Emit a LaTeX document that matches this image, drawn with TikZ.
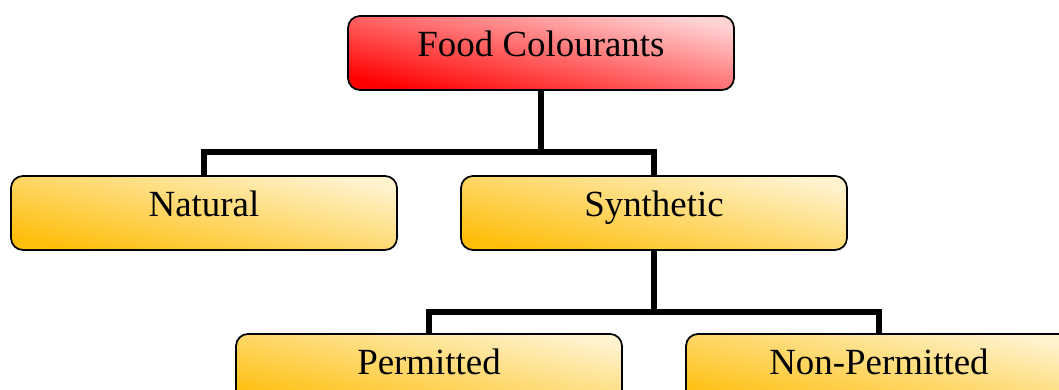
\documentclass[tikz,border=0pt]{standalone}
\usepackage{fontspec}
\setmainfont{Liberation Serif}
\usetikzlibrary{positioning, calc}
\definecolor{rootdark}{RGB}{255,0,0}
\definecolor{rootlight}{RGB}{255,210,212}
\definecolor{leafdark}{RGB}{255,190,10}
\definecolor{leaflight}{RGB}{255,243,206}

\begin{document}
\begin{tikzpicture}[every node/.style={font=\fontsize{21}{25}\selectfont},
      box/.style={rectangle, rounded corners=0.24cm, draw, line width=1pt,
        minimum width=7.72cm, inner sep=0pt, text height=0.82cm, text depth=0.66cm},
      rootbox/.style={box, top color=rootlight, bottom color=rootdark, shading angle=-12},
      leafbox/.style={box, top color=leaflight, bottom color=leafdark, shading angle=-12},
      conn/.style={line width=3.2pt}]
      \useasboundingbox (0,0) rectangle (21.18,7.8);

      % Blocks
      \node[rootbox] (root) at (10.82,6.74) {Food Colourants};
      \node[leafbox] (natural) at (4.08,3.54) {Natural};
      \node[leafbox] (synthetic) at (13.08,3.54) {Synthetic};
      \node[leafbox] (permitted) at (8.58,0.38) {Permitted};
      \node[leafbox] (nonpermitted) at (17.58,0.38) {Non-Permitted};

      % Connectors
      \draw[conn] (root.south) -- ++(0,-1.22) coordinate (rootsplit);
      \draw[conn] (rootsplit) -| (natural.north);
      \draw[conn] (rootsplit) -| (synthetic.north);

      \draw[conn] (synthetic.south) -- ++(0,-1.22) coordinate (synsplit);
      \draw[conn] (synsplit) -| (permitted.north);
      \draw[conn] (synsplit) -| (nonpermitted.north);
    \end{tikzpicture}
\end{document}
